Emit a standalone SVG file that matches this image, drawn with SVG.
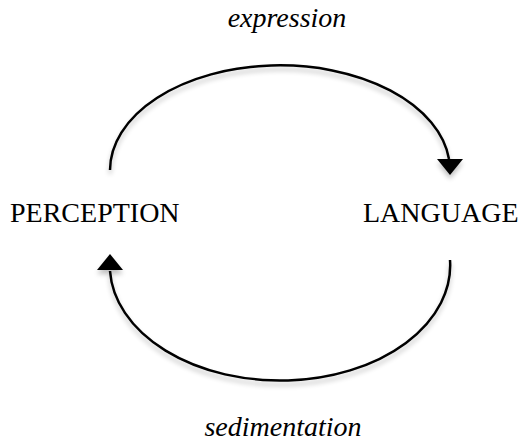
<svg xmlns="http://www.w3.org/2000/svg" width="531" height="442" viewBox="0 0 531 442">
  <style>
    .lbl { font-family: "Liberation Serif", "Times New Roman", serif; font-size: 28px; fill: #000; }
    .it { font-style: italic; }
    .arc { fill: none; stroke: #000; stroke-width: 2.5; }
    .head { fill: #000; }
  </style>
  <defs>
    <filter id="sh" x="-10%" y="-10%" width="120%" height="130%">
      <feGaussianBlur in="SourceAlpha" stdDeviation="2.5"/>
      <feOffset dx="0" dy="4" result="b"/>
      <feComponentTransfer><feFuncA type="linear" slope="0.25"/></feComponentTransfer>
      <feMerge><feMergeNode/><feMergeNode in="SourceGraphic"/></feMerge>
    </filter>
  </defs>
  <rect width="531" height="442" fill="#fff"/>
  <g id="connectors" filter="url(#sh)">
    <g id="expression-arc">
      <path class="arc" d="M110,170 A170,105 0 0 1 449,159"/>
      <polygon class="head" points="437,159 463,159 450,175"/>
    </g>
    <g id="sedimentation-arc">
      <path class="arc" d="M450,260 A170,115 0 0 1 110,271"/>
      <polygon class="head" points="97,270 123,270 110,254"/>
    </g>
  </g>
  <g id="perception"><text class="lbl" x="10" y="222">PERCEPTION</text></g>
  <g id="language"><text class="lbl" x="363" y="222">LANGUAGE</text></g>
  <g id="label-expression"><text class="lbl it" x="287" y="27" text-anchor="middle">expression</text></g>
  <g id="label-sedimentation"><text class="lbl it" x="283" y="436" text-anchor="middle">sedimentation</text></g>
</svg>
